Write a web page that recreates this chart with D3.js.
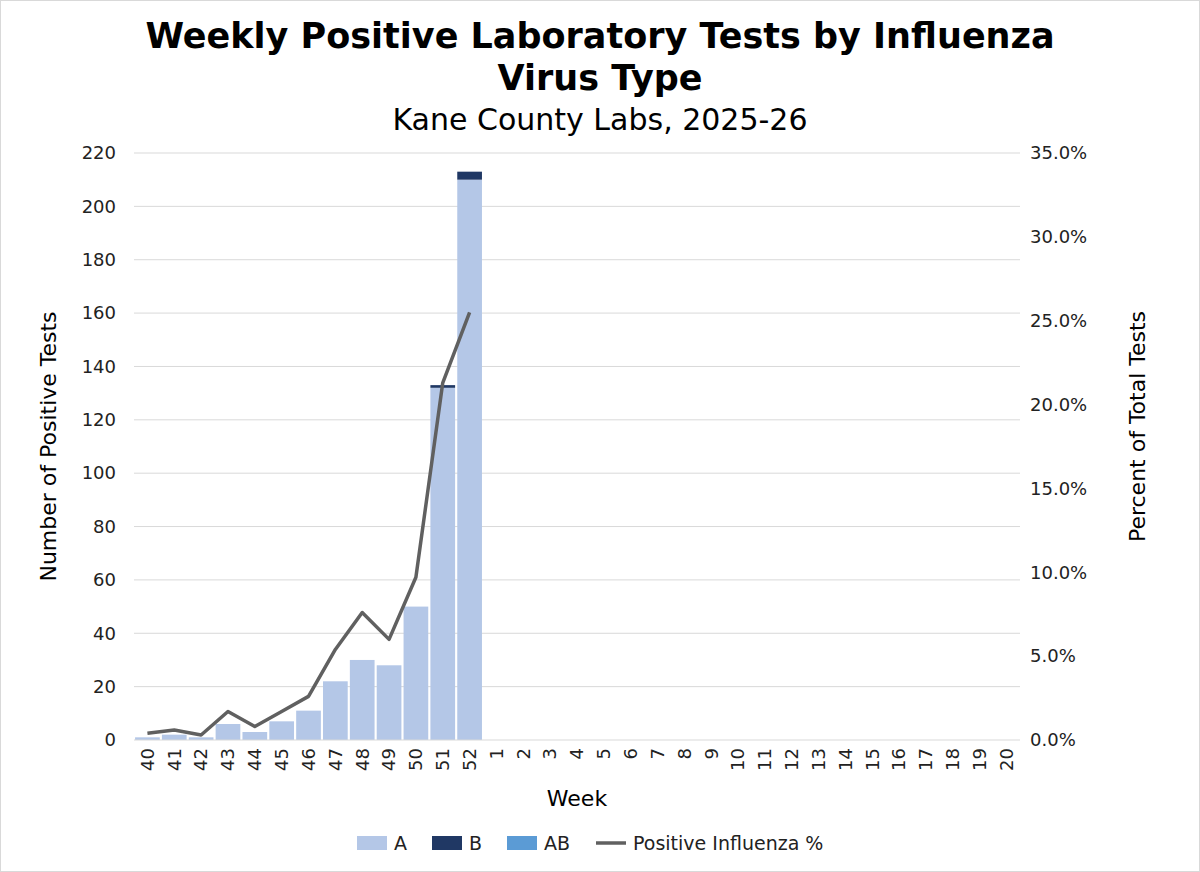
<!DOCTYPE html>
<html>
<head>
<meta charset="UTF-8">
<script src="https://cdnjs.cloudflare.com/ajax/libs/d3/7.8.5/d3.min.js"></script>
<style>
  body { margin: 0; background: #fff; font-family: Verdana, "DejaVu Sans", sans-serif; }
  svg { display: block; }
</style>
</head>
<body>
<svg id="chart" width="1200" height="872"></svg>
<script>
// weeks 40..52 then 1..20
const weeks = ["40","41","42","43","44","45","46","47","48","49","50","51","52",
  "1","2","3","4","5","6","7","8","9","10","11","12","13","14","15","16","17","18","19","20"];
const fluA  = [1, 2, 1, 6, 3, 7, 11, 22, 30, 28, 50, 132, 210];
const fluB  = [0, 0, 0, 0, 0, 0, 0, 0, 0, 0, 0, 1, 3];
const fluAB = [0, 0, 0, 0, 0, 0, 0, 0, 0, 0, 0, 0, 0];
const pctPos = [0.4, 0.6, 0.3, 1.7, 0.8, 1.7, 2.6, 5.4, 7.6, 6.0, 9.7, 21.3, 25.5];
const leftTicks = d3.range(0, 221, 20);
const rightTicks = d3.range(0, 36, 5);

const svg = d3.select("#chart");
svg.append("rect").attr("x", 0.5).attr("y", 0.5).attr("width", 1199).attr("height", 871)
  .attr("fill", "#fff").attr("stroke", "#d9d9d9");

const m = { left: 134, right: 1020, top: 153, bottom: 740 };
const x = d3.scaleBand().domain(weeks).range([m.left, m.right]).paddingInner(0.08).paddingOuter(0.04);
const y = d3.scaleLinear().domain([0, 220]).range([m.bottom, m.top]);
const y2 = d3.scaleLinear().domain([0, 35]).range([m.bottom, m.top]);

// grid
svg.append("g").selectAll("line").data(leftTicks.slice(1)).join("line")
  .attr("x1", m.left).attr("x2", m.right).attr("y1", d => y(d)).attr("y2", d => y(d))
  .attr("stroke", "#d9d9d9");

// stacked bars
const rows = fluA.map((a, i) => ({ week: weeks[i], A: a, B: fluB[i], AB: fluAB[i] }));
const stack = d3.stack().keys(["A", "B", "AB"])(rows);
const colors = { A: "#b4c7e7", B: "#203864", AB: "#5b9bd5" };
svg.append("g").selectAll("g").data(stack).join("g").attr("fill", s => colors[s.key])
  .selectAll("rect").data(s => s).join("rect")
  .attr("x", d => x(d.data.week)).attr("width", x.bandwidth())
  .attr("y", d => y(d[1])).attr("height", d => y(d[0]) - y(d[1]));

// axis baseline
svg.append("line").attr("x1", m.left).attr("x2", m.right).attr("y1", m.bottom).attr("y2", m.bottom)
  .attr("stroke", "#d9d9d9");

// line
const line = d3.line().x((d, i) => x(weeks[i]) + x.bandwidth() / 2).y(d => y2(d));
svg.append("path").datum(pctPos).attr("d", line).attr("fill", "none")
  .attr("stroke", "#606060").attr("stroke-width", 3.5).attr("stroke-linejoin", "round");

// axes
const tickFont = 18;
const gl = svg.append("g").attr("transform", `translate(${m.left},0)`)
  .call(d3.axisLeft(y).tickValues(leftTicks).tickSize(0).tickPadding(18));
const gr = svg.append("g").attr("transform", `translate(${m.right},0)`)
  .call(d3.axisRight(y2).tickValues(rightTicks).tickSize(0).tickPadding(10).tickFormat(d => d.toFixed(1) + "%"));
const gb = svg.append("g").attr("transform", `translate(0,${m.bottom})`)
  .call(d3.axisBottom(x).tickSize(0).tickPadding(0));
[gl, gr, gb].forEach(g => {
  g.select(".domain").remove();
  g.selectAll("text").attr("font-size", tickFont).attr("fill", "#222").attr("font-family", "Verdana, DejaVu Sans, sans-serif");
});
gb.selectAll("text").attr("transform", "rotate(-90)").attr("text-anchor", "end")
  .attr("x", -8).attr("y", 0).attr("dy", "0.35em");

// titles
const title = svg.append("g").attr("text-anchor", "middle").attr("fill", "#000");
title.append("text").attr("x", 600).attr("y", 48).attr("font-size", 35).attr("font-weight", "bold")
  .text("Weekly Positive Laboratory Tests by Influenza");
title.append("text").attr("x", 600).attr("y", 90).attr("font-size", 35).attr("font-weight", "bold")
  .text("Virus Type");
title.append("text").attr("x", 600).attr("y", 130).attr("font-size", 30).text("Kane County Labs, 2025-26");

svg.append("text").attr("transform", `translate(56,${(m.top + m.bottom) / 2}) rotate(-90)`)
  .attr("text-anchor", "middle").attr("font-size", 22).text("Number of Positive Tests");
svg.append("text").attr("transform", `translate(1145,${(m.top + m.bottom) / 2 - 20}) rotate(-90)`)
  .attr("text-anchor", "middle").attr("font-size", 22).text("Percent of Total Tests");
svg.append("text").attr("x", (m.left + m.right) / 2).attr("y", 806)
  .attr("text-anchor", "middle").attr("font-size", 22).text("Week");

// legend
const legend = [
  { label: "A", color: colors.A, type: "rect", x: 357 },
  { label: "B", color: colors.B, type: "rect", x: 432 },
  { label: "AB", color: colors.AB, type: "rect", x: 507 },
  { label: "Positive Influenza %", color: "#606060", type: "line", x: 596 }
];
const lg = svg.append("g").selectAll("g").data(legend).join("g")
  .attr("transform", d => `translate(${d.x},843)`);
lg.filter(d => d.type === "rect").append("rect").attr("x", 0).attr("y", -7).attr("width", 30).attr("height", 14)
  .attr("fill", d => d.color);
lg.filter(d => d.type === "line").append("line").attr("x1", 0).attr("x2", 30)
  .attr("stroke", d => d.color).attr("stroke-width", 3.5);
lg.append("text").attr("x", 37).attr("dy", "0.35em").attr("font-size", 19).attr("fill", "#222").text(d => d.label);
</script>
</body>
</html>
